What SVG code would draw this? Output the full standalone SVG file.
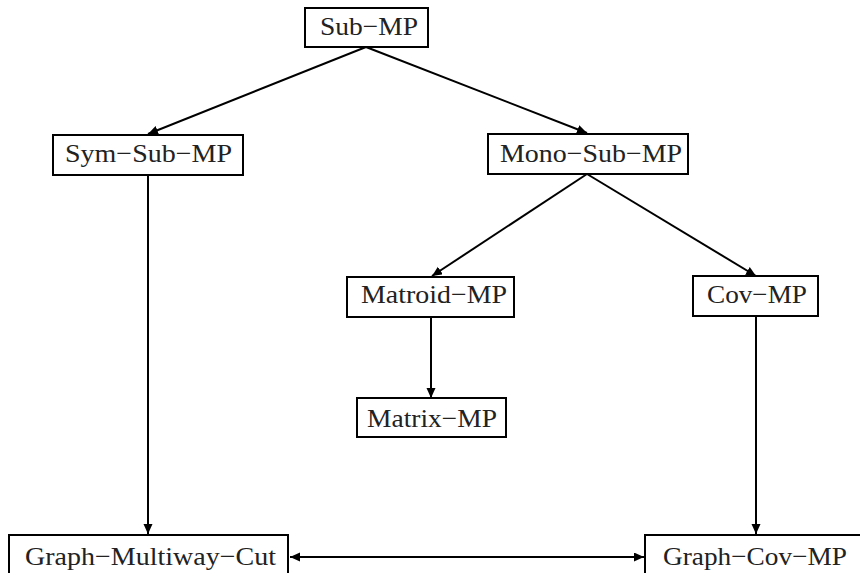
<svg xmlns="http://www.w3.org/2000/svg" width="860" height="573" viewBox="0 0 860 573">
<style>
.box{fill:#fff;stroke:#000;stroke-width:2}
.t{font-family:"Liberation Serif","Times New Roman",serif;font-size:26px;fill:#222;text-anchor:middle}
.c{stroke:#000;stroke-width:2;fill:none;marker-end:url(#ah)}
</style>
<defs>
<marker id="ah" markerUnits="userSpaceOnUse" markerWidth="11" markerHeight="10" refX="10" refY="4.5" orient="auto-start-reverse">
<path d="M0,0 L10,4.5 L0,9 z" fill="#000"/>
</marker>
</defs>
<rect width="860" height="573" fill="#fff"/>
<g id="connectors">
<line class="c" x1="366" y1="47" x2="148" y2="134"/>
<line class="c" x1="366" y1="47" x2="587" y2="133"/>
<line class="c" x1="148" y1="175" x2="148" y2="534"/>
<line class="c" x1="587" y1="174" x2="432" y2="276"/>
<line class="c" x1="587" y1="174" x2="756" y2="276"/>
<line class="c" x1="431" y1="317" x2="431" y2="398"/>
<line class="c" x1="756" y1="316" x2="756" y2="534"/>
<line class="c" x1="290" y1="557" x2="644" y2="557" style="marker-start:url(#ah)"/>
</g>
<g id="sub-mp"><rect class="box" x="305" y="8" width="123" height="39"/><text class="t" x="369" y="35" textLength="98" lengthAdjust="spacingAndGlyphs">Sub−MP</text></g>
<g id="sym-sub-mp"><rect class="box" x="53" y="135" width="190" height="40"/><text class="t" x="148.5" y="162" textLength="167" lengthAdjust="spacingAndGlyphs">Sym−Sub−MP</text></g>
<g id="mono-sub-mp"><rect class="box" x="488" y="134" width="200" height="40"/><text class="t" x="591" y="162" textLength="182" lengthAdjust="spacingAndGlyphs">Mono−Sub−MP</text></g>
<g id="matroid-mp"><rect class="box" x="347" y="277" width="167" height="40"/><text class="t" x="434" y="303" textLength="146" lengthAdjust="spacingAndGlyphs">Matroid−MP</text></g>
<g id="cov-mp"><rect class="box" x="693" y="276" width="125" height="40"/><text class="t" x="757" y="303" textLength="100" lengthAdjust="spacingAndGlyphs">Cov−MP</text></g>
<g id="matrix-mp"><rect class="box" x="357" y="398" width="149" height="39"/><text class="t" x="432" y="427" textLength="130" lengthAdjust="spacingAndGlyphs">Matrix−MP</text></g>
<g id="graph-multiway-cut"><rect class="box" x="9" y="535" width="279" height="45"/><text class="t" x="150.5" y="565" textLength="251" lengthAdjust="spacingAndGlyphs">Graph−Multiway−Cut</text></g>
<g id="graph-cov-mp"><rect class="box" x="645" y="535" width="225" height="45"/><text class="t" x="755" y="565" textLength="184" lengthAdjust="spacingAndGlyphs">Graph−Cov−MP</text></g>
</svg>
